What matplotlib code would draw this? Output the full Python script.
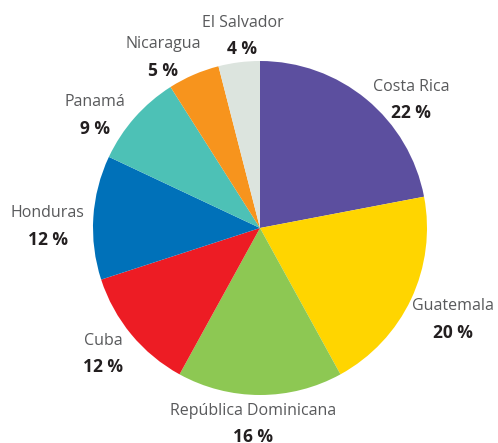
import numpy as np
import matplotlib
matplotlib.use("Agg")
import matplotlib.pyplot as plt

countries = ["Costa Rica", "Guatemala", "República Dominicana", "Cuba",
             "Honduras", "Panamá", "Nicaragua", "El Salvador"]
shares = [22, 20, 16, 12, 12, 9, 5, 4]
colors = ["#5c4f9f", "#ffd500", "#8dc853", "#ed1c24",
          "#0071b9", "#4dc1b6", "#f7941d", "#dce4de"]
# label radial distances / angle tweaks (layout)
label_r = [1.19, 1.28, 1.17, 1.20, 1.27, 1.20, 1.18, 1.16]
label_dang = [10, 0, 2, 1, -3, -7, -6, 2]

W, H = 498, 443
fig = plt.figure(figsize=(W / 100, H / 100), dpi=100)
ax = fig.add_axes([0, 0, 1, 1])
R = 167.0
cx, cy = 260.0, 228.0

wedges, _ = ax.pie(shares, colors=colors, startangle=90, counterclock=False,
                   radius=1.0, wedgeprops=dict(linewidth=0))
ax.set_aspect("auto")
ax.set_xlim(-cx / R, (W - cx) / R)
ax.set_ylim(-(H - cy) / R, cy / R)
ax.axis("off")

font = "Open Sans"
total = sum(shares)
cum = 0
for name, v, r, da in zip(countries, shares, label_r, label_dang):
    mid = (cum + v / 2) / total * 360 + da
    cum += v
    th = np.deg2rad(mid)
    x, y = r * np.sin(th), r * np.cos(th)
    ax.text(x, y + 0.075, name, ha="center", va="center", fontsize=11.5,
            family=font, color="#58595b")
    ax.text(x, y - 0.085, f"{v} %", ha="center", va="center", fontsize=12.5,
            family=font, fontweight="bold", color="#231f20")

fig.savefig("out.png", dpi=100)
